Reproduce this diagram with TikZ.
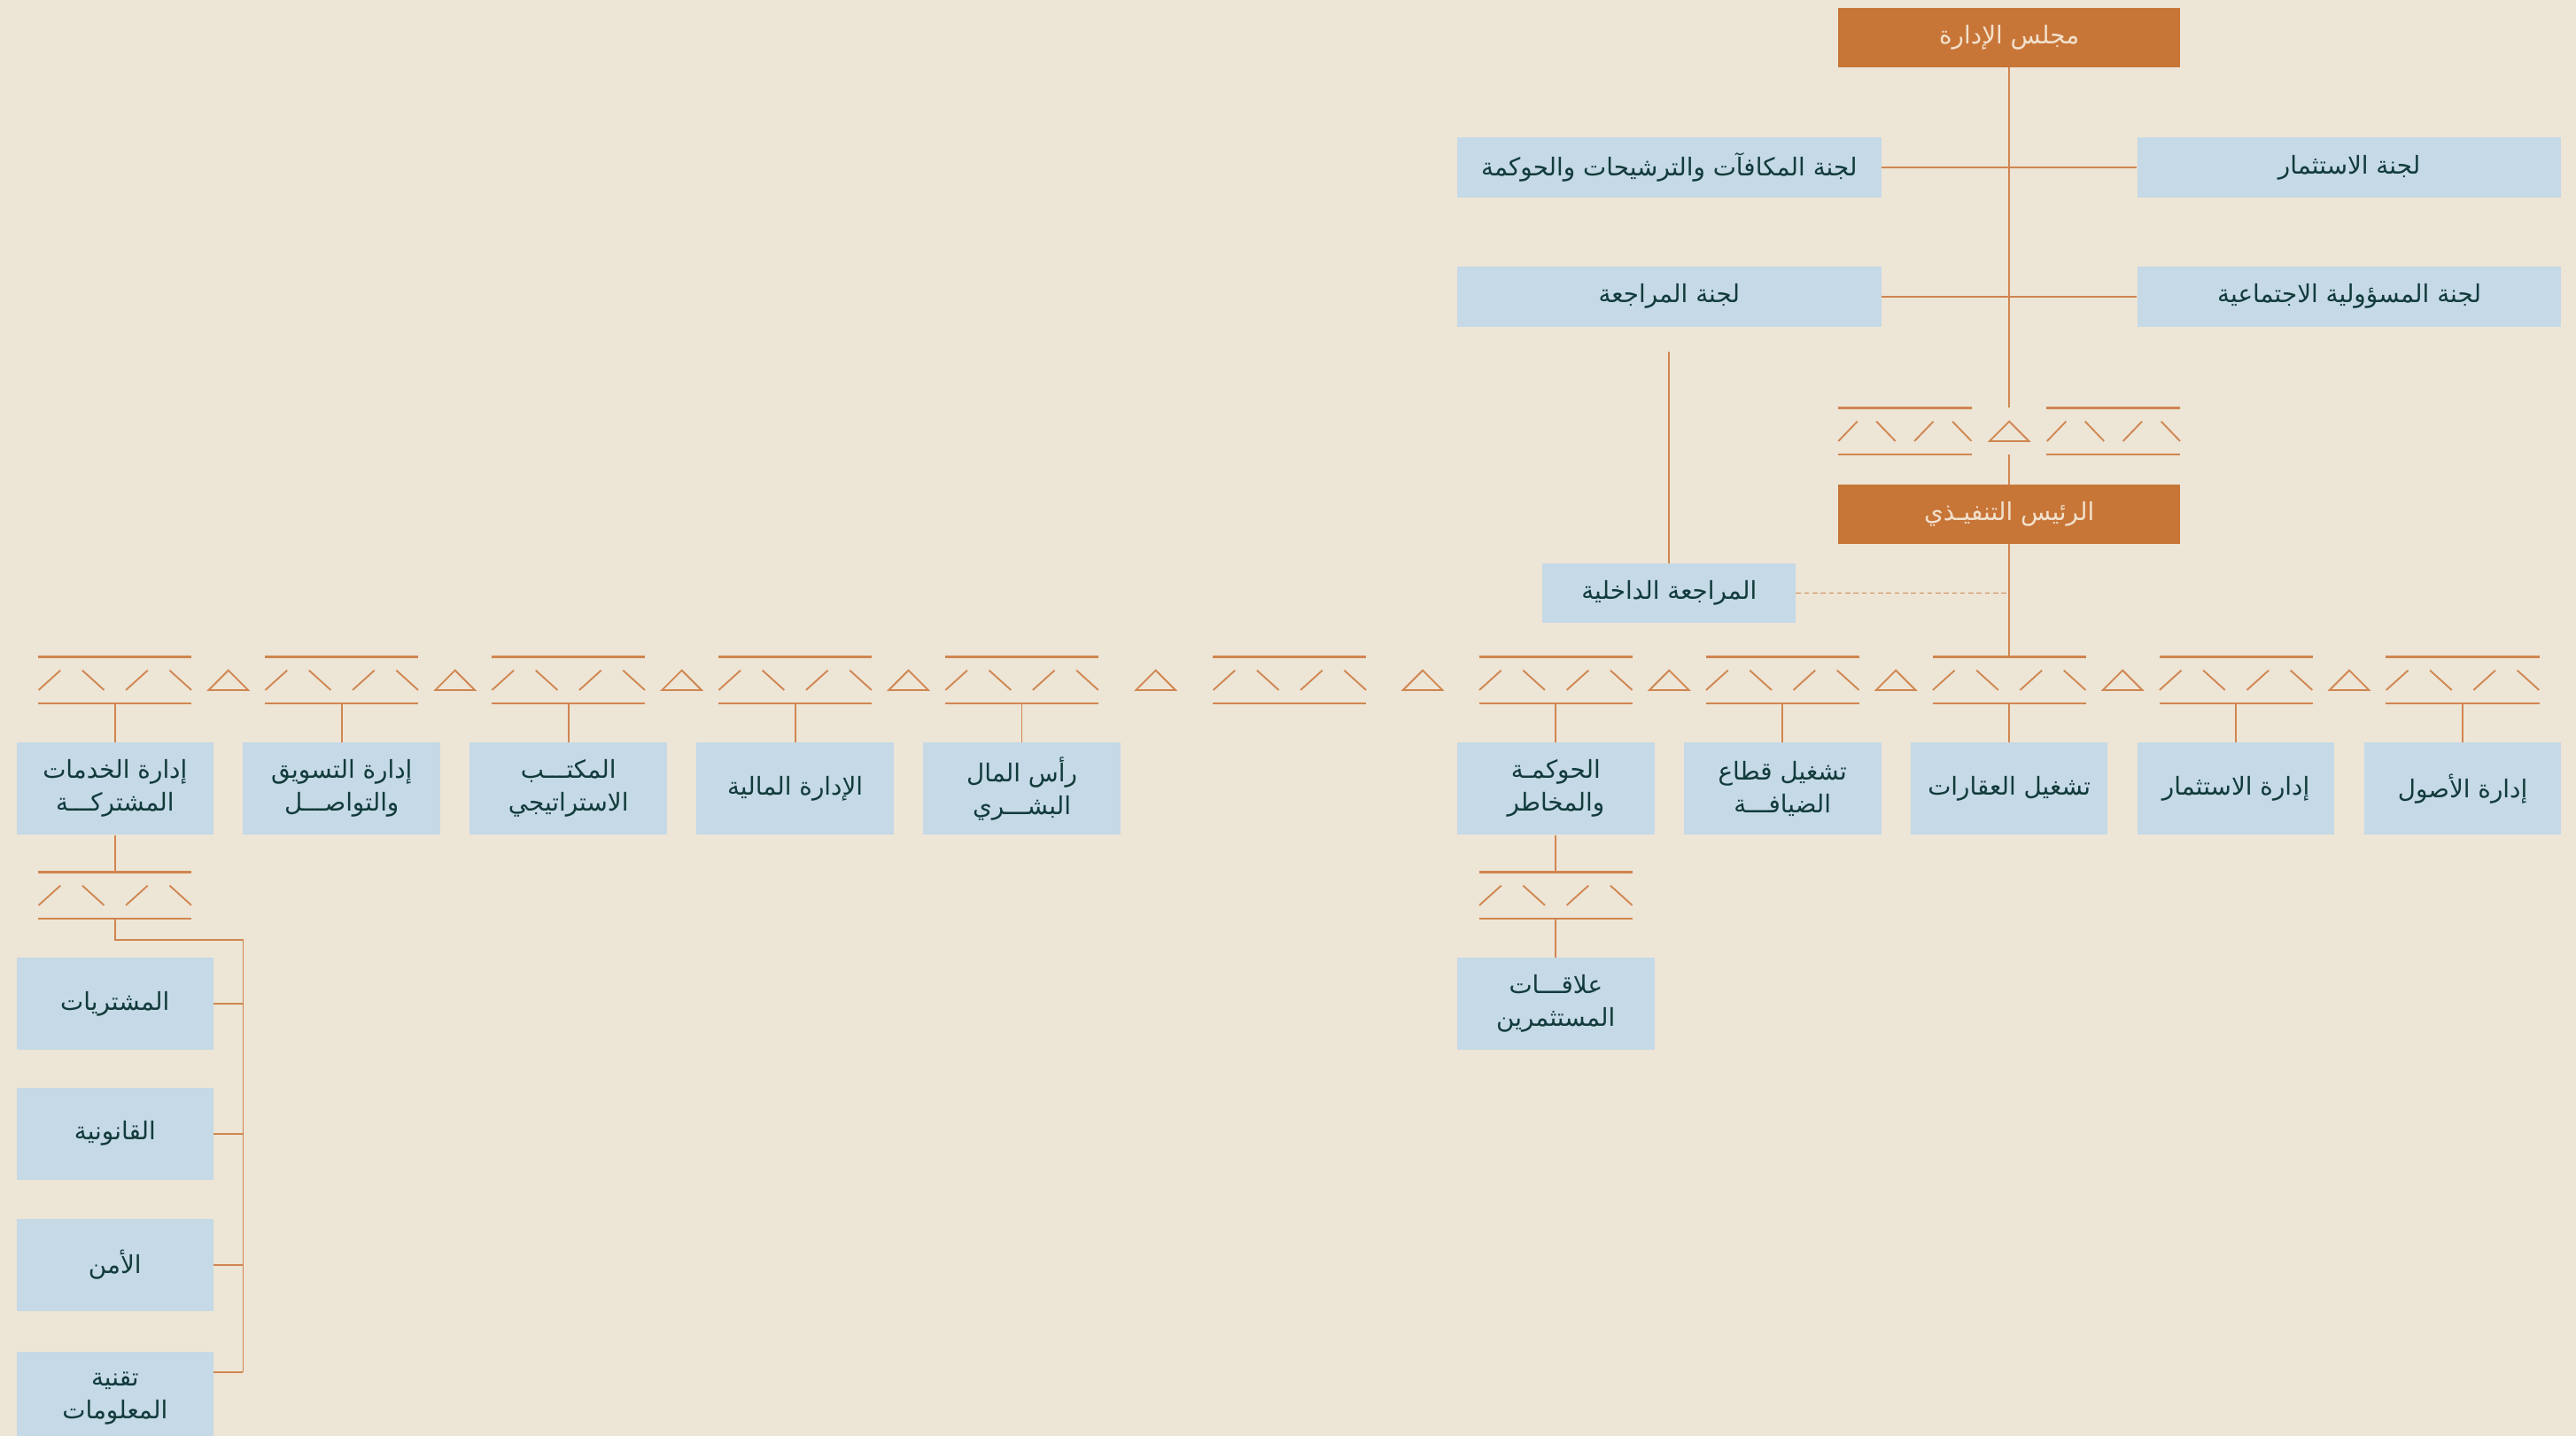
\documentclass[tikz,border=0pt]{standalone}
\usepackage{fontspec}
\newfontfamily\arabicfont[Script=Arabic]{DejaVu Sans}
\TeXXeTstate=1
\definecolor{paper}{HTML}{EDE5D6}
\definecolor{sky}{HTML}{C5D9E6}
\definecolor{rust}{HTML}{C87538}
\definecolor{wire}{HTML}{D08650}
\definecolor{ink}{HTML}{123B3C}
\definecolor{cream}{HTML}{F1E1CB}

\newcommand{\ar}[1]{\beginR #1\endR}

\tikzset{
  tline/.style={draw=wire, line width=1pt},
  rule/.style={draw=wire, line width=1.3pt},
  box/.style={fill=sky, text=ink, minimum width=120pt, minimum height=56pt, inner sep=0pt, align=center, font=\arabicfont\fontsize{15}{20}\selectfont},
  wide/.style={box, minimum width=258pt, minimum height=36.5pt},
  head/.style={box, fill=rust, text=cream, minimum width=208pt, minimum height=36pt},
  bandbox/.style={minimum height=28pt, inner sep=0pt},
}

% band of two rules with four slanted strokes: name, x, y, width
\newcommand{\orgband}[4]{%
  \node[bandbox, minimum width=#4pt] (#1) at (#2,#3) {};
  \draw[rule] (#1.north west) -- (#1.north east);
  \draw[rule] (#1.south west) -- (#1.south east);
  \foreach \k/\dir in {0/1,2/-1,4/1,6/-1}{
    \pgfmathsetmacro{\xa}{#2-#4/2+\k*#4/7}
    \pgfmathsetmacro{\xb}{\xa+#4/7}
    \draw[tline] (\xa,#3+6*\dir) -- (\xb,#3-6*\dir);
  }
}

\begin{document}
\begin{tikzpicture}[x=1pt,y=-1pt]
    \fill[paper] (0,0) rectangle (1568,874);
    \useasboundingbox (0,0) rectangle (1568,874);

    % board and committees
    \node[head] (board) at (1223,23) {\ar{مجلس الإدارة}};
    \node[wide] (remco) at (1016,102) {\ar{لجنة المكافآت والترشيحات والحوكمة}};
    \node[wide] (invc) at (1430,102) {\ar{لجنة الاستثمار}};
    \node[wide] (audc) at (1016,180.5) {\ar{لجنة المراجعة}};
    \node[wide] (csrc) at (1430,180.5) {\ar{لجنة المسؤولية الاجتماعية}};
    \draw[tline] (remco.east) -- (invc.west);
    \draw[tline] (audc.east) -- (csrc.west);

    % band under the board
    \orgband{topl}{1159.5}{262.5}{81}
    \orgband{topr}{1286.5}{262.5}{81}
    \draw[tline] (1211,268.5) -- (1223,256.5) -- (1235,268.5) -- cycle;
    \draw[tline] (board.south) -- (board.south |- topl.north);

    % executive
    \node[head] (ceo) at (1223,313) {\ar{الرئيس التنفيـذي}};
    \draw[tline] (ceo.north |- topl.south) -- (ceo.north);
    \node[box, minimum width=154pt, minimum height=36pt] (intaud) at (1016,361) {\ar{المراجعة الداخلية}};
    \coordinate (audtop) at (1016,214);
    \draw[tline] (audtop) -- (intaud.north);
    \draw[tline, line width=0.6pt, dash pattern=on 3pt off 2pt] (intaud.east) -- (intaud.east -| ceo.south);

    % bands of the departments
    \foreach \name/\x in {b1/70,b2/208,b3/346,b4/484,b5/622,bx/785,b6/947,b7/1085,b8/1223,b9/1361,b10/1499}{
        \orgband{\name}{\x}{414}{93}
    }
    \foreach \x in {139,277,415,553,703.5,866,1016,1154,1292,1430}{
        \draw[tline] (\x-12,420) -- (\x,408) -- (\x+12,420) -- cycle;
    }
    \draw[tline] (ceo.south) -- (b8.north);

    % departments
    \node[box] (d1) at (70,480) {\ar{إدارة الخدمات}\\\ar{المشتركـــة}};
    \node[box] (d2) at (208,480) {\ar{إدارة التسويق}\\\ar{والتواصـــل}};
    \node[box] (d3) at (346,480) {\ar{المكتـــب}\\\ar{الاستراتيجي}};
    \node[box] (d4) at (484,480) {\ar{الإدارة المالية}};
    \node[box] (d5) at (622,480) {\ar{رأس المال}\\\ar{البشـــري}};
    \node[box] (d6) at (947,480) {\ar{الحوكمـة}\\\ar{والمخاطر}};
    \node[box] (d7) at (1085,480) {\ar{تشغيل قطاع}\\\ar{الضيافـــة}};
    \node[box] (d8) at (1223,480) {\ar{تشغيل العقارات}};
    \node[box] (d9) at (1361,480) {\ar{إدارة الاستثمار}};
    \node[box] (d10) at (1499,480) {\ar{إدارة الأصول}};
    \foreach \b/\d in {b1/d1,b2/d2,b3/d3,b4/d4,b5/d5,b6/d6,b7/d7,b8/d8,b9/d9,b10/d10}{
        \draw[tline] (\b.south) -- (\d.north);
    }

    % shared services units
    \orgband{sb}{70}{545}{93}
    \draw[tline] (d1.south) -- (sb.north);
    \node[box] (p1) at (70,611) {\ar{المشتريات}};
    \node[box] (p2) at (70,690) {\ar{القانونية}};
    \node[box] (p3) at (70,770) {\ar{الأمن}};
    \node[box] (p4) at (70,851) {\ar{تقنية}\\\ar{المعلومات}};
    \coordinate (spinetop) at (148,572);
    \coordinate (spinebot) at (148,835);
    \draw[tline] (sb.south) |- (spinetop) -- (spinebot);
    \foreach \p in {p1,p2,p3}{
        \draw[tline] (\p.east) -- (\p.east -| spinetop);
    }
    \draw[tline] (p4.east |- spinebot) -- (spinebot);

    % investor relations
    \orgband{gb}{947}{545}{93}
    \node[box] (ir) at (947,611) {\ar{علاقـــات}\\\ar{المستثمرين}};
    \draw[tline] (d6.south) -- (gb.north);
    \draw[tline] (gb.south) -- (ir.north);
\end{tikzpicture}
\end{document}
